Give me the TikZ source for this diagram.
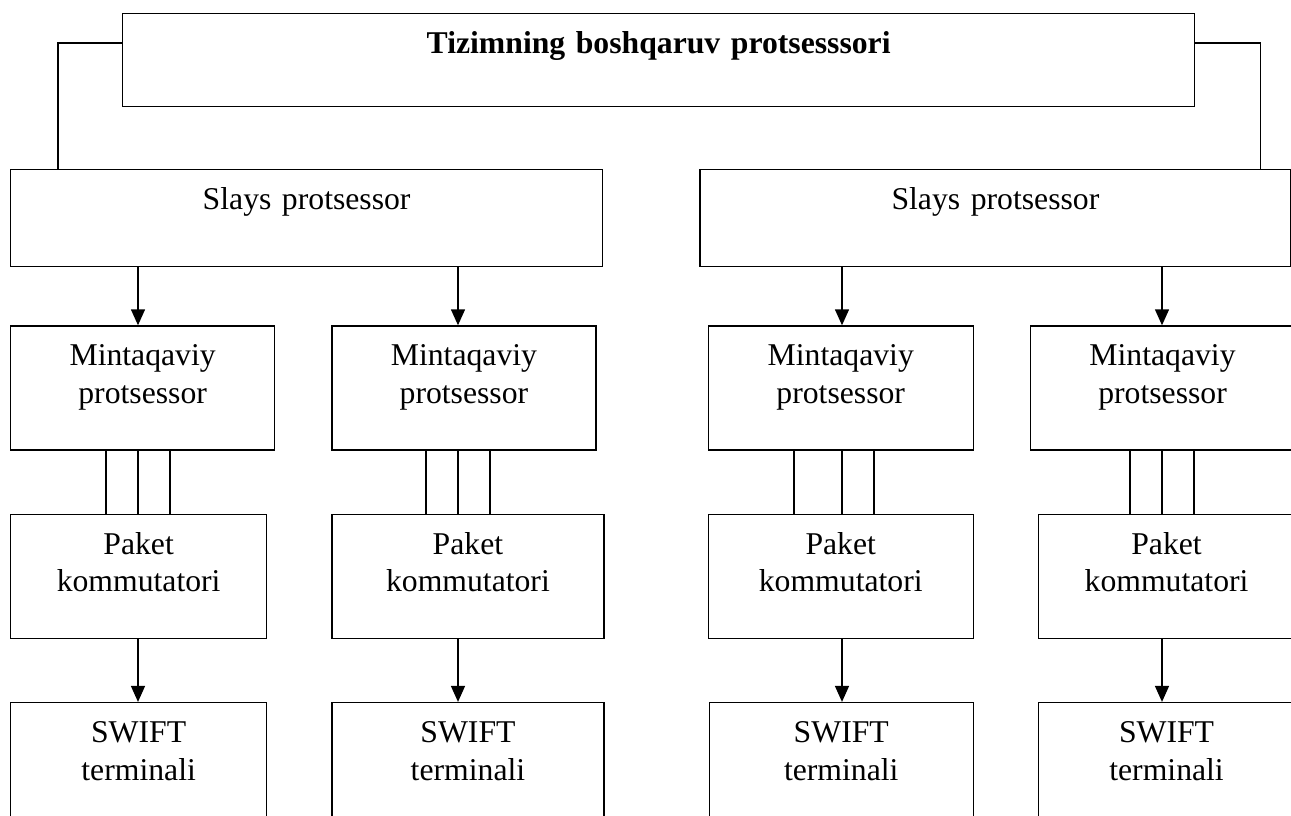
\documentclass[tikz,border=0pt]{standalone}
\usepackage{fontspec}
\setmainfont{Liberation Serif}
\usepackage{tikz}
\usetikzlibrary{arrows.meta, positioning}
\tikzset{
  box/.style={rectangle, draw=black, line width=1.3pt, inner sep=0pt,
              align=center, text height=40pt,
              font=\fontsize{31.7}{37.5}\selectfont},
  arrow/.style={-{Triangle[length=16pt,width=14pt]}, draw=black, line width=1.4pt},
  link/.style={draw=black, line width=1.3pt},
}

\begin{document}
\begin{tikzpicture}[
  x=1pt, y=1pt,
  mint/.style={box, text depth=84pt},
  paket/.style={box, text depth=84pt},
  swift/.style={box, text depth=100pt},
]
  \useasboundingbox (0,0) rectangle (1291,-816);

  \node[box, text width=1072pt, text depth=53pt, anchor=north west,
        font=\fontsize{31.7}{37.5}\selectfont\bfseries] (ctrl) at (122,-13)
    {Tizimning boshqaruv protsesssori};

  \node[box, text width=592pt, text depth=57pt, anchor=north west] (slay1) at (10,-169)
    {Slays protsessor};
  \node[box, text width=591pt, text depth=57pt, right=96pt of slay1] (slay2)
    {Slays protsessor};

  \node[mint, text width=264pt, below=58pt of slay1.south west, anchor=north west] (m1)
    {Mintaqaviy\\protsessor};
  \node[mint, text width=264pt, right=56pt of m1] (m2) {Mintaqaviy\\protsessor};
  \node[mint, text width=265pt, right=111pt of m2] (m3) {Mintaqaviy\\protsessor};
  \node[mint, text width=264pt, right=56pt of m3] (m4) {Mintaqaviy\\protsessor};

  \node[paket, text width=256pt, below=63pt of m1.south west, anchor=north west] (p1)
    {Paket\\kommutatori};
  \node[paket, text width=272pt, below=63pt of m2.south west, anchor=north west] (p2)
    {Paket\\kommutatori};
  \node[paket, text width=265pt, below=63pt of m3.south west, anchor=north west] (p3)
    {Paket\\kommutatori};
  \node[paket, text width=256pt, below=63pt of m4.south east, anchor=north east] (p4)
    {Paket\\kommutatori};

  \node[swift, text width=256pt, below=63pt of p1.south west, anchor=north west] (s1)
    {SWIFT\\terminali};
  \node[swift, text width=272pt, below=63pt of p2.south west, anchor=north west] (s2)
    {SWIFT\\terminali};
  \node[swift, text width=264pt, below=63pt of p3.south west, anchor=north west,
        xshift=1pt] (s3) {SWIFT\\terminali};
  \node[swift, text width=256pt, below=63pt of p4.south east, anchor=north east] (s4)
    {SWIFT\\terminali};

  % columns of the arrows
  \coordinate (col1) at (138,0);
  \coordinate (col2) at (458,0);
  \coordinate (col3) at (842,0);
  \coordinate (col4) at (1162,0);

  % control processor to slice processors
  \draw[link] ([yshift=-30pt]ctrl.north west) -| ([xshift=48pt]slay1.north west);
  \draw[link] ([yshift=-30pt]ctrl.north east) -| ([xshift=-31pt]slay2.north east);

  \draw[arrow] (slay1.south -| col1) -- (m1.north -| col1);
  \draw[arrow] (slay1.south -| col2) -- (m2.north -| col2);
  \draw[arrow] (slay2.south -| col3) -- (m3.north -| col3);
  \draw[arrow] (slay2.south -| col4) -- (m4.north -| col4);

  % three links between regional processor and packet switch
  \draw[link] ([xshift=-32pt]m1.south -| col1) -- ([xshift=-32pt]p1.north -| col1);
  \draw[link] (m1.south -| col1) -- (p1.north -| col1);
  \draw[link] ([xshift=32pt]m1.south -| col1) -- ([xshift=32pt]p1.north -| col1);
  \draw[link] ([xshift=-32pt]m2.south -| col2) -- ([xshift=-32pt]p2.north -| col2);
  \draw[link] (m2.south -| col2) -- (p2.north -| col2);
  \draw[link] ([xshift=32pt]m2.south -| col2) -- ([xshift=32pt]p2.north -| col2);
  \draw[link] ([xshift=-48pt]m3.south -| col3) -- ([xshift=-48pt]p3.north -| col3);
  \draw[link] (m3.south -| col3) -- (p3.north -| col3);
  \draw[link] ([xshift=32pt]m3.south -| col3) -- ([xshift=32pt]p3.north -| col3);
  \draw[link] ([xshift=-32pt]m4.south -| col4) -- ([xshift=-32pt]p4.north -| col4);
  \draw[link] (m4.south -| col4) -- (p4.north -| col4);
  \draw[link] ([xshift=32pt]m4.south -| col4) -- ([xshift=32pt]p4.north -| col4);

  \draw[arrow] (p1.south -| col1) -- (s1.north -| col1);
  \draw[arrow] (p2.south -| col2) -- (s2.north -| col2);
  \draw[arrow] (p3.south -| col3) -- (s3.north -| col3);
  \draw[arrow] (p4.south -| col4) -- (s4.north -| col4);
\end{tikzpicture}
\end{document}
